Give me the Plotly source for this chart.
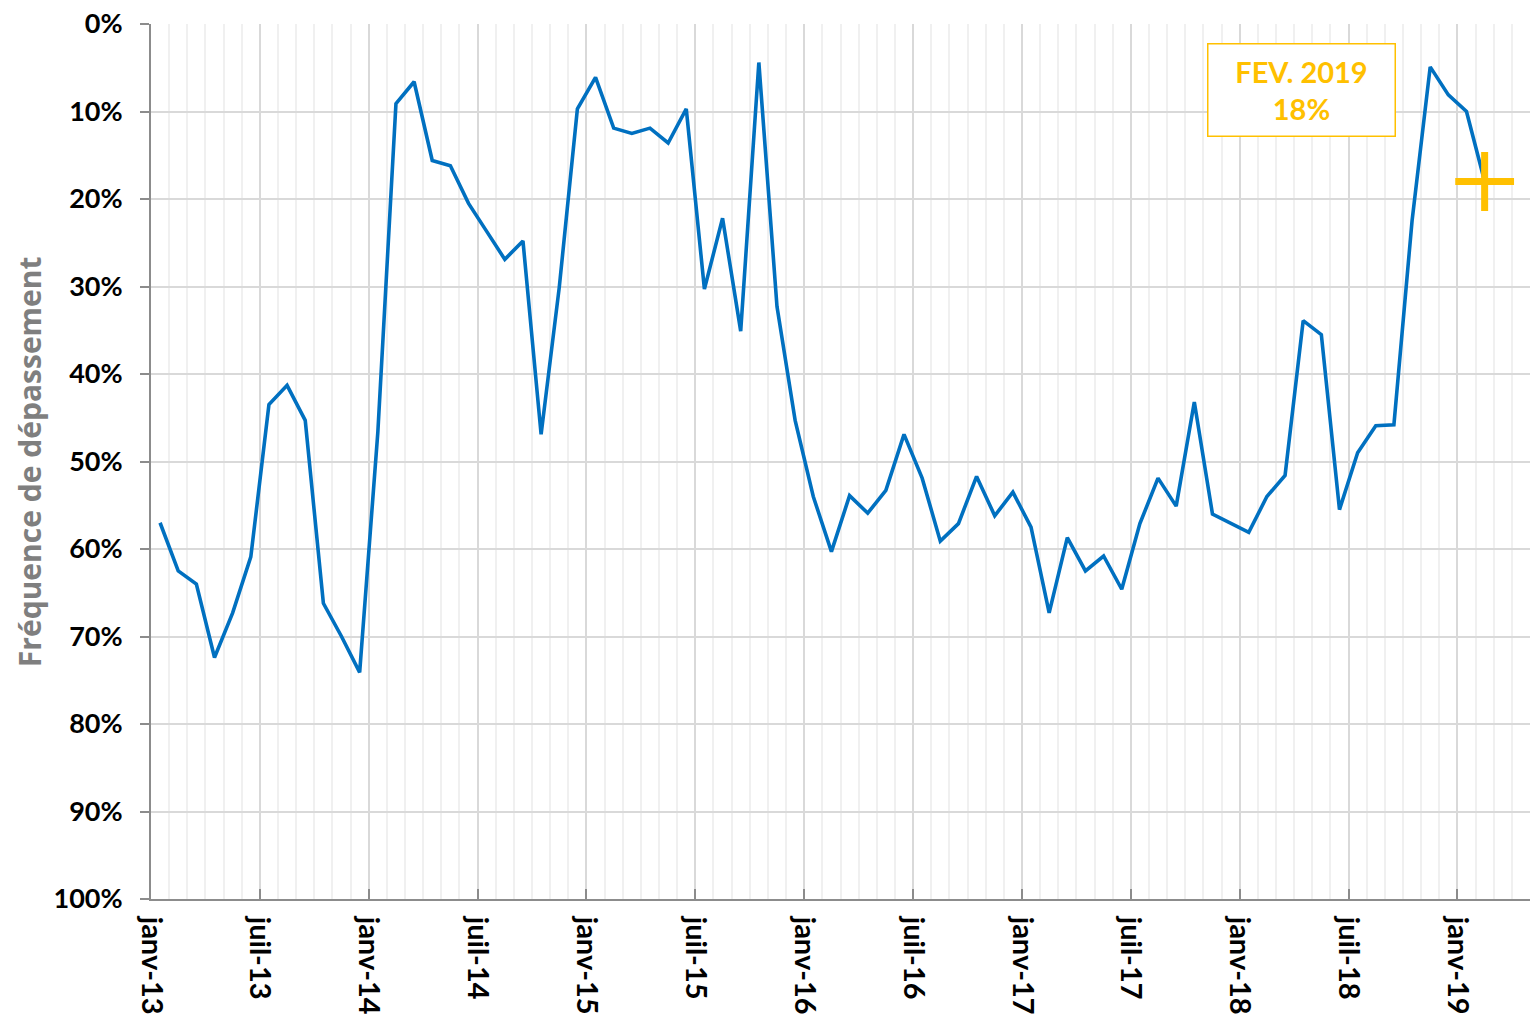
import plotly.graph_objects as go

# ---- data ----
month_names = ["janv", "févr", "mars", "avr", "mai", "juin",
               "juil", "août", "sept", "oct", "nov", "déc"]
years = ["13", "14", "15", "16", "17", "18", "19"]
months = [f"{m}-{y}" for y in years for m in month_names][:74]  # janv-13 .. févr-19

frequence = [57.0, 62.5, 64.0, 72.4, 67.3, 60.9, 43.5, 41.3, 45.3, 66.2, 70.0, 74.1,
             46.7, 9.1, 6.6, 15.6, 16.2, 20.5, 23.7, 26.9, 24.8, 46.9, 30.1, 9.7,
             6.1, 11.9, 12.5, 11.9, 13.6, 9.7, 30.3, 22.2, 35.1, 4.4, 32.3, 45.3,
             54.0, 60.3, 53.9, 55.9, 53.3, 46.9, 51.9, 59.1, 57.1, 51.7, 56.2, 53.5,
             57.5, 67.3, 58.7, 62.5, 60.8, 64.6, 57.1, 51.9, 55.1, 43.2, 56.0, 57.0,
             58.1, 54.0, 51.6, 33.9, 35.5, 55.5, 49.0, 45.9, 45.8, 22.5, 4.9, 8.1,
             10.0, 18.0]

tick_labels = ["janv-13", "juil-13", "janv-14", "juil-14", "janv-15", "juil-15",
               "janv-16", "juil-16", "janv-17", "juil-17", "janv-18", "juil-18", "janv-19"]
y_ticks = [0, 10, 20, 30, 40, 50, 60, 70, 80, 90, 100]
y_title = "Fréquence de dépassement"
highlight_label = "FEV. 2019"
highlight_value = 18

# ---- positions (category centres between monthly gridlines) ----
x_pos = [i + 0.5 for i in range(len(months))]
tick_pos = [months.index(t) for t in tick_labels]

FONT = "Lato"
BLUE = "#0070C0"
GOLD = "#FFC000"
AXIS = "#8c8c8c"

fig = go.Figure()
fig.add_trace(go.Scatter(
    x=x_pos, y=frequence, mode="lines",
    line=dict(color=BLUE, width=3.6),
    text=months, hovertemplate="%{text}: %{y}%<extra></extra>",
    showlegend=False,
))
fig.add_trace(go.Scatter(
    x=[x_pos[-1]], y=[frequence[-1]], mode="markers",
    marker=dict(symbol="cross-thin", size=42, color=GOLD,
                line=dict(color=GOLD, width=7)),
    showlegend=False, hoverinfo="skip",
))

fig.add_annotation(
    xref="paper", yref="paper", x=0.834, y=0.925,
    xanchor="center", yanchor="middle",
    text=f"<b>{highlight_label}<br>{highlight_value}%</b>",
    showarrow=False, align="center",
    font=dict(family=FONT, size=29, color=GOLD),
    bordercolor=GOLD, borderwidth=1.5, bgcolor="white",
    width=184, height=89,
)

# y-axis title
fig.add_annotation(
    xref="paper", yref="paper", x=-0.088, y=0.5,
    xanchor="center", yanchor="middle", textangle=-90,
    text=f"<b>{y_title}</b>", showarrow=False,
    font=dict(family="Open Sans", size=30, color="#7f7f7f"),
)

fig.update_layout(
    width=1531, height=1021,
    margin=dict(l=151, r=1, t=24, b=122),
    paper_bgcolor="white", plot_bgcolor="white",
    font=dict(family=FONT, color="black"),
    xaxis=dict(
        range=[0, 76], automargin=False,
        tickmode="array", tickvals=tick_pos, ticktext=tick_labels,
        tickangle=90,
        tickfont=dict(family=FONT, size=29, color="black", weight="bold"),
        ticks="inside", ticklen=10, tickwidth=2, tickcolor=AXIS,
        showline=True, linecolor=AXIS, linewidth=2,
        showgrid=True, gridcolor="#d9d9d9", gridwidth=2,
        minor=dict(tickmode="linear", tick0=0, dtick=1, showgrid=True,
                   gridcolor="#f0f0f0", gridwidth=2, ticks=""),
        zeroline=False,
        ticklabelstandoff=10,
        ticklabeloverflow="allow",
    ),
    yaxis=dict(
        range=[100, 0], automargin=False,
        tickmode="array", tickvals=y_ticks,
        ticktext=[f"{v}%" for v in y_ticks],
        tickfont=dict(family=FONT, size=27, color="black", weight="bold"),
        ticks="outside", ticklen=9, tickwidth=2, tickcolor=AXIS,
        showline=True, linecolor=AXIS, linewidth=2,
        showgrid=True, gridcolor="#d9d9d9", gridwidth=2,
        zeroline=False,
        ticklabelstandoff=12,
        ticklabeloverflow="allow",
    ),
)

# remove the browser's default 8px body margin so the figure fills the window exactly
fig.write_html(
    "out.html",
    config={"displayModeBar": False},
    post_script="document.body.style.margin='0';document.body.style.overflow='hidden';",
)
